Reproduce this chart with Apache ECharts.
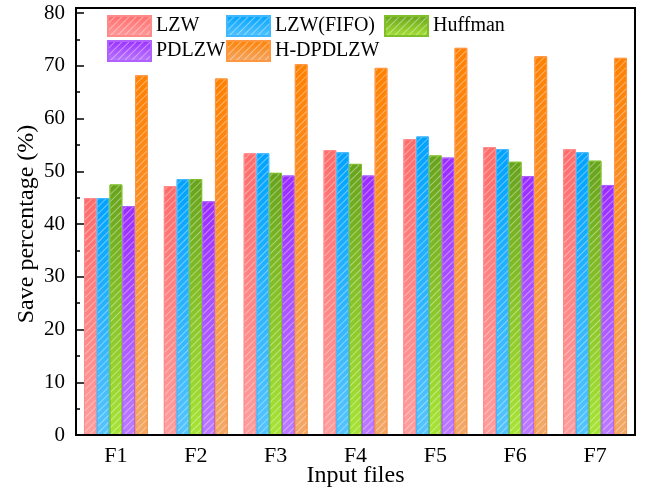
<!DOCTYPE html>
<html><head><meta charset="utf-8">
<script src="https://cdn.jsdelivr.net/npm/echarts@6/dist/echarts.min.js"></script>
<style>html,body{margin:0;padding:0;background:#fff}#c{width:645px;height:488px}</style>
</head><body><div id="c"></div>
<script>
var categories = ['F1','F2','F3','F4','F5','F6','F7'];
var seriesNames = ['LZW','LZW(FIFO)','Huffman','PDLZW','H-DPDLZW'];
var lzw      = [44.9, 47.2, 53.4, 54.0, 56.1, 54.6, 54.2];
var lzwFifo  = [44.9, 48.5, 53.4, 53.6, 56.6, 54.2, 53.6];
var huffman  = [47.5, 48.5, 49.7, 51.4, 53.0, 51.8, 52.0];
var pdlzw    = [43.4, 44.3, 49.2, 49.2, 52.6, 49.1, 47.4];
var hdpdlzw  = [68.2, 67.6, 70.3, 69.6, 73.4, 71.8, 71.5];
var yTicks = [0,10,20,30,40,50,60,70,80];

var values = [lzw, lzwFifo, huffman, pdlzw, hdpdlzw];
var topColors = ['#ff6b6b','#00a2ff','#67a21c','#9a2cff','#ff8000'];
var botColors = ['#ff9d9d','#55c4ff','#a8e335','#bb7cff','#f2a868'];
var borderColors = ['#ff8a8a','#40b8ff','#7fbf2a','#b060ff','#ff9640'];
var FONT = '"Liberation Serif", "Times New Roman", serif';

var chart = echarts.init(document.getElementById('c'), null, {renderer:'canvas'});
var series = seriesNames.map(function(n,i){
  return {
    name:n, type:'bar', data: values[i],
    barGap: '0%', barCategoryGap: '20%',
    itemStyle:{
      color: new echarts.graphic.LinearGradient(0,0,0,1,[{offset:0,color:topColors[i]},{offset:1,color:botColors[i]}]),
      borderColor: borderColors[i], borderWidth: 1,
      decal: {symbol:'rect', symbolSize:1, dashArrayX:[1,0], dashArrayY:[1,4], rotation: -Math.PI/4, color:'rgba(255,255,255,0.4)'}
    }
  };
});
function leg(names, left){
  return {data: names, orient:'vertical', left:left, top:15, padding:0, itemWidth:43, itemHeight:20, itemGap:3,
    textStyle:{fontFamily:FONT, fontSize:20, color:'#000'}, icon:'rect'};
}
chart.setOption({
  animation:false,
  grid:{left:76, right:10, top:13, bottom:53, containLabel:false, outerBoundsMode:'none'},
  legend:[leg(['LZW','PDLZW'],107), leg(['LZW(FIFO)','H-DPDLZW'],226), leg(['Huffman'],384)],
  xAxis:{type:'category', data:categories,
    name:'Input files', nameLocation:'middle', nameGap:29, nameMoveOverlap:false,
    nameTextStyle:{fontFamily:FONT, fontSize:24, color:'#000'},
    axisLine:{lineStyle:{color:'#000', width:2}},
    axisTick:{inside:true, alignWithLabel:true, length:7, lineStyle:{color:'#000', width:1.5}},
    axisLabel:{fontFamily:FONT, fontSize:22, color:'#000', margin:10}
  },
  yAxis:{type:'value', min:yTicks[0], max:yTicks[yTicks.length-1], interval:yTicks[1]-yTicks[0],
    name:'Save percentage (%)', nameLocation:'middle', nameGap:37, nameMoveOverlap:false,
    nameTextStyle:{fontFamily:FONT, fontSize:24, color:'#000'},
    axisLine:{show:true, lineStyle:{color:'#000', width:2}},
    axisTick:{show:true, inside:true, length:8, lineStyle:{color:'#000', width:1.5}},
    minorTick:{show:true, splitNumber:2, length:4, lineStyle:{color:'#000', width:1.5}},
    splitLine:{show:false},
    axisLabel:{fontFamily:FONT, fontSize:21, color:'#000', margin:11}
  },
  graphic:[{type:'rect', shape:{x:76, y:8, width:559, height:427}, style:{fill:'none', stroke:'#000', lineWidth:2}, z:100, silent:true}],
  series: series
});
</script></body></html>
